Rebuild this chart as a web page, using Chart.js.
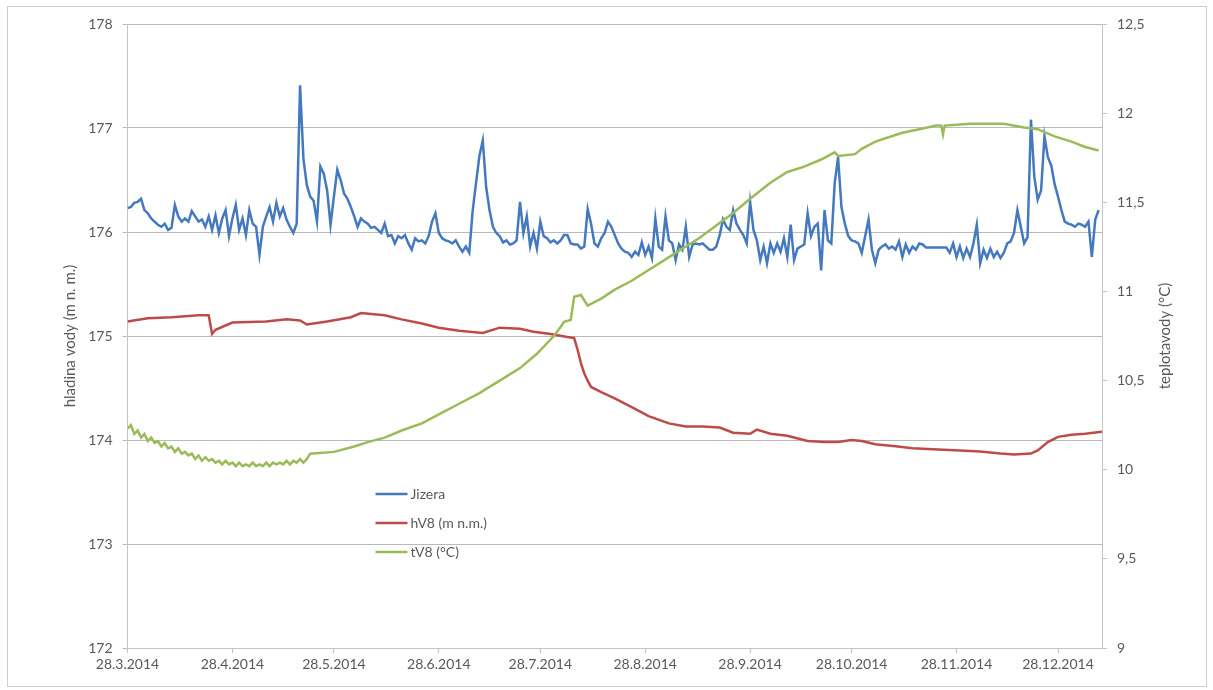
<!DOCTYPE html>
<html>
<head>
<meta charset="utf-8">
<script src="https://cdn.jsdelivr.net/npm/chart.js@4.4.1/dist/chart.umd.min.js"></script>
<style>
  html, body { margin: 0; padding: 0; background: #fff; }
  #graf { display: block; }
</style>
</head>
<body>
<canvas id="graf" width="1213" height="690"></canvas>
<script>
// osa x: dny od 28.3.2014
const dnyPopisku = [0, 31, 61, 92, 122, 153, 184, 214, 245, 275];
const popiskyX = ['28.3.2014', '28.4.2014', '28.5.2014', '28.6.2014', '28.7.2014',
                  '28.8.2014', '28.9.2014', '28.10.2014', '28.11.2014', '28.12.2014'];

// Jizera - hladina (m n. m.), jedna hodnota na den od 28.3.2014
const jizera = [
  176.23, 176.24, 176.28, 176.29, 176.32, 176.21, 176.18, 176.13, 176.10, 176.07,
  176.05, 176.08, 176.02, 176.04, 176.26, 176.15, 176.10, 176.13, 176.10, 176.20,
  176.15, 176.10, 176.12, 176.05, 176.15, 176.02, 176.16, 175.99, 176.13, 176.21,
  175.96, 176.13, 176.26, 176.02, 176.13, 175.97, 176.21, 176.08, 176.05, 175.78,
  176.05, 176.15, 176.24, 176.10, 176.28, 176.15, 176.23, 176.12, 176.05, 175.99,
  176.08, 177.41, 176.70, 176.45, 176.34, 176.30, 176.10, 176.63, 176.56, 176.40,
  176.07, 176.34, 176.60, 176.50, 176.37, 176.32, 176.24, 176.15, 176.05, 176.13,
  176.10, 176.08, 176.04, 176.05, 176.02, 175.99, 176.08, 175.96, 175.97, 175.89,
  175.96, 175.94, 175.97, 175.89, 175.83, 175.94, 175.91, 175.92, 175.89, 175.96,
  176.10, 176.18, 175.99, 175.94, 175.92, 175.91, 175.89, 175.92, 175.86, 175.81,
  175.86, 175.80, 176.20, 176.47, 176.73, 176.88, 176.43, 176.21, 176.05, 175.99,
  175.96, 175.90, 175.92, 175.88, 175.89, 175.92, 176.29, 175.99, 176.15, 175.86,
  175.99, 175.84, 176.10, 175.96, 175.94, 175.90, 175.92, 175.89, 175.92, 175.97,
  175.97, 175.89, 175.88, 175.88, 175.84, 175.86, 176.22, 176.08, 175.89, 175.86,
  175.94, 175.99, 176.10, 176.05, 175.97, 175.89, 175.84, 175.81, 175.80, 175.76,
  175.81, 175.78, 175.90, 175.78, 175.86, 175.75, 176.13, 175.86, 175.83, 176.15,
  175.92, 175.89, 175.73, 175.88, 175.83, 176.05, 175.76, 175.88, 175.89, 175.88,
  175.89, 175.86, 175.83, 175.83, 175.86, 175.97, 176.12, 176.05, 176.02, 176.21,
  176.08, 176.02, 175.97, 175.89, 176.29, 176.02, 175.92, 175.73, 175.86, 175.70,
  175.89, 175.80, 175.89, 175.81, 175.94, 175.76, 176.07, 175.73, 175.84, 175.86,
  175.88, 176.18, 175.96, 176.05, 176.08, 175.63, 176.21, 175.92, 175.89, 176.47,
  176.72, 176.24, 176.08, 175.96, 175.92, 175.91, 175.89, 175.80, 175.96, 176.12,
  175.83, 175.70, 175.83, 175.86, 175.88, 175.84, 175.86, 175.83, 175.91, 175.76,
  175.88, 175.80, 175.86, 175.83, 175.89, 175.88, 175.85, 175.85, 175.85, 175.85,
  175.85, 175.85, 175.85, 175.80, 175.89, 175.76, 175.86, 175.75, 175.84, 175.76,
  175.89, 176.07, 175.70, 175.83, 175.75, 175.84, 175.76, 175.81, 175.75, 175.80,
  175.89, 175.91, 175.99, 176.21, 176.05, 175.89, 175.95, 177.08, 176.53, 176.31,
  176.40, 176.92, 176.72, 176.64, 176.46, 176.34, 176.21, 176.10, 176.08, 176.07,
  176.05, 176.08, 176.07, 176.05, 176.10, 175.76, 176.12, 176.21
];

// hV8 - hladina ve vrtu (m n. m.)
const hv8Dny = [0, 6, 13, 21, 24, 25, 26, 31, 41, 47, 51, 53, 59, 66, 69, 76, 81, 87,
  92, 98, 105, 110, 116, 120, 125, 130, 132, 133, 134, 135, 136, 137, 140, 144, 150,
  154, 160, 165, 170, 175, 179, 184, 186, 190, 195, 201, 206, 210, 214, 217, 221, 227,
  232, 238, 246, 252, 258, 262, 267, 269, 272, 275, 279, 283, 288];
const hv8 = [175.14, 175.17, 175.18, 175.20, 175.20, 175.02, 175.06, 175.13, 175.14,
  175.16, 175.15, 175.11, 175.14, 175.18, 175.22, 175.20, 175.16, 175.12, 175.08,
  175.05, 175.03, 175.08, 175.07, 175.04, 175.02, 174.99, 174.98, 174.87, 174.74,
  174.64, 174.57, 174.51, 174.46, 174.40, 174.30, 174.23, 174.16, 174.13, 174.13,
  174.12, 174.07, 174.06, 174.10, 174.06, 174.04, 173.99, 173.98, 173.98, 174.00,
  173.99, 173.96, 173.94, 173.92, 173.91, 173.90, 173.89, 173.87, 173.86, 173.87,
  173.90, 173.98, 174.03, 174.05, 174.06, 174.08];

// tV8 - teplota vody (°C)
const tv8Dny = [0, 1, 2, 3, 4, 5, 6, 7, 8, 9, 10, 11, 12, 13, 14, 15, 16, 17, 18, 19,
  20, 21, 22, 23, 24, 25, 26, 27, 28, 29, 30, 31, 32, 33, 34, 35, 36, 37, 38, 39,
  40, 41, 42, 43, 44, 45, 46, 47, 48, 49, 50, 51, 52, 53, 54, 61, 67, 71, 76, 81,
  87, 92, 98, 104, 110, 116, 121, 126, 128, 129, 131, 132, 134, 136, 138, 140, 144,
  149, 154, 159, 164, 169, 174, 179, 184, 190, 195, 200, 205, 209, 210, 215, 217,
  221, 229, 234, 239, 240.5, 241, 241.5, 249, 259, 265, 269, 274, 279, 283, 287];
const tv8 = [10.23, 10.25, 10.20, 10.22, 10.18, 10.20, 10.16, 10.18, 10.15, 10.16,
  10.13, 10.15, 10.12, 10.13, 10.10, 10.12, 10.09, 10.10, 10.08, 10.09,
  10.06, 10.08, 10.05, 10.07, 10.05, 10.06, 10.04, 10.05, 10.03, 10.05,
  10.03, 10.04, 10.02, 10.04, 10.02, 10.03, 10.02, 10.04, 10.02, 10.03,
  10.02, 10.04, 10.02, 10.04, 10.03, 10.04, 10.03, 10.05, 10.03, 10.05,
  10.04, 10.06, 10.04, 10.06, 10.09, 10.10, 10.13, 10.155, 10.18, 10.22,
  10.26, 10.31, 10.37, 10.43, 10.50, 10.57, 10.65, 10.75, 10.80, 10.83,
  10.84, 10.97, 10.98, 10.92, 10.94, 10.96, 11.01, 11.06, 11.12, 11.18,
  11.24, 11.30, 11.37, 11.44, 11.52, 11.61, 11.67, 11.70, 11.74, 11.78,
  11.76, 11.77, 11.80, 11.84, 11.89, 11.91, 11.93, 11.93, 11.88, 11.93,
  11.94, 11.94, 11.92, 11.91, 11.87, 11.84, 11.81, 11.79];

const pismo = 'Lato, "Open Sans", sans-serif';
const sedyText = '#595959';
const barvaOsy = '#c4c4c4';
const barvaMrizky = '#bababa';

Chart.defaults.font.family = pismo;
Chart.defaults.font.size = 14;
Chart.defaults.color = sedyText;

// legenda v ploše grafu, popis pravé osy a rámeček
const doplnky = {
  id: 'doplnky',
  afterDraw(chart) {
    const ctx = chart.ctx;
    const area = chart.chartArea;
    ctx.save();

    ctx.strokeStyle = '#cfcfcf';
    ctx.lineWidth = 1;
    ctx.strokeRect(7.5, 6.5, 1199, 680);

    ctx.fillStyle = sedyText;
    ctx.font = '15px ' + pismo;
    ctx.textAlign = 'center';
    ctx.textBaseline = 'middle';
    ctx.translate(1165, (area.top + area.bottom) / 2);
    ctx.rotate(-Math.PI / 2);
    ctx.fillText('teplotavody (°C)', 0, 0);
    ctx.setTransform(1, 0, 0, 1, 0, 0);

    ctx.font = '14px ' + pismo;
    ctx.textAlign = 'left';
    chart.data.datasets.forEach((ds, i) => {
      const x = area.left + 248;
      const y = area.top + 470 + i * 29;
      ctx.strokeStyle = ds.borderColor;
      ctx.lineWidth = 2.5;
      ctx.beginPath();
      ctx.moveTo(x, y);
      ctx.lineTo(x + 32, y);
      ctx.stroke();
      ctx.fillText(ds.label, x + 35, y);
    });
    ctx.restore();
  }
};

new Chart(document.getElementById('graf'), {
  type: 'line',
  data: {
    datasets: [
      {
        label: 'Jizera',
        data: jizera.map((v, i) => ({ x: i, y: v })),
        borderColor: '#4479bf',
        yAxisID: 'y',
        order: 2
      },
      {
        label: 'hV8 (m n.m.)',
        data: hv8Dny.map((d, i) => ({ x: d, y: hv8[i] })),
        borderColor: '#bd4b48',
        yAxisID: 'y',
        order: 1
      },
      {
        label: 'tV8 (°C)',
        data: tv8Dny.map((d, i) => ({ x: d, y: tv8[i] })),
        borderColor: '#9bbb59',
        yAxisID: 'y2',
        order: 0
      }
    ]
  },
  options: {
    responsive: false,
    animation: false,
    devicePixelRatio: 1,
    layout: { padding: { left: 61, top: 24, right: 0, bottom: 0 } },
    elements: {
      point: { radius: 0 },
      line: { borderWidth: 2.5, tension: 0 }
    },
    plugins: {
      legend: { display: false },
      tooltip: { enabled: false }
    },
    scales: {
      x: {
        type: 'linear',
        min: 0,
        max: 288,
        afterBuildTicks: s => { s.ticks = dnyPopisku.map(v => ({ value: v })); },
        afterFit: s => { s.height = 42; },
        grid: { drawOnChartArea: false, tickLength: 5, color: barvaOsy },
        border: { color: barvaOsy },
        ticks: {
          autoSkip: false,
          maxRotation: 0,
          padding: 3,
          callback: v => popiskyX[dnyPopisku.indexOf(v)]
        }
      },
      y: {
        position: 'left',
        min: 172,
        max: 178,
        afterFit: s => { s.width = 66.5; },
        grid: { color: barvaMrizky, tickLength: 5 },
        border: { color: barvaOsy },
        ticks: { stepSize: 1, padding: 10 },
        title: {
          display: true,
          text: 'hladina vody (m n. m.)',
          font: { size: 15 },
          padding: 0
        }
      },
      y2: {
        position: 'right',
        min: 9,
        max: 12.5,
        afterFit: s => { s.width = 111; },
        grid: { drawOnChartArea: false, tickLength: 5, color: barvaOsy },
        border: { color: barvaOsy },
        ticks: {
          stepSize: 0.5,
          padding: 10,
          callback: v => String(v).replace('.', ',')
        }
      }
    }
  },
  plugins: [doplnky]
});
</script>
</body>
</html>
